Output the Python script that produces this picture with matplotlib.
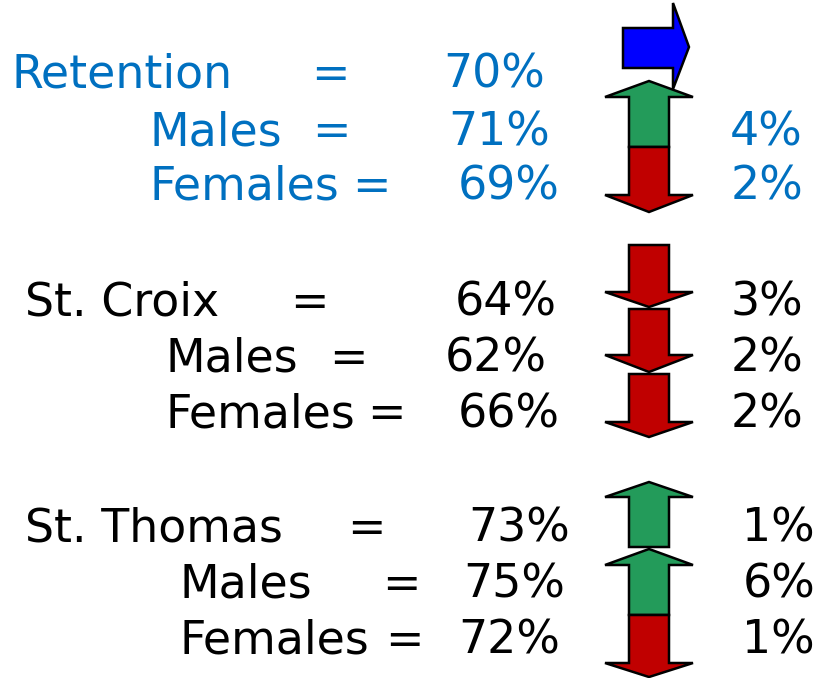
import matplotlib.pyplot as plt
from matplotlib.patches import Polygon

# rows of the summary: label, value, change, arrow direction
labels = ['Retention', 'Males', 'Females',
          'St. Croix', 'Males', 'Females',
          'St. Thomas', 'Males', 'Females']
values = ['70%', '71%', '69%', '64%', '62%', '66%', '73%', '75%', '72%']
changes = ['', '4%', '2%', '3%', '2%', '2%', '1%', '6%', '1%']
arrows = ['right', 'up', 'down', 'down', 'down', 'down', 'up', 'up', 'down']

# layout (pixel coordinates)
baseline = [88, 145, 200, 316, 372, 427, 542, 598, 654]
label_x = [12, 150, 150, 25, 165, 165, 25, 180, 180]
eq_x = [330, 331, 371, 309, 348, 386, 366, 401, 404]      # centres
val_r = [545, 550, 560, 557, 547, 560, 570, 565, 560]     # right edges
chg_r = [None, 803, 803, 803, 803, 803, 815, 815, 815]    # right edges
text_col = ['#0070C0'] * 3 + ['black'] * 6

# arrow extents: (tip, head base, shaft end)
arrow_y = [None, (81, 97, 147), (212, 195, 147),
           (307, 292, 245), (372, 355, 309), (437, 422, 374),
           (482, 497, 547), (549, 565, 615), (677, 663, 615)]

GREEN = '#239B5A'
RED = '#C00000'
BLUE = '#0000FF'

fig = plt.figure(figsize=(8.27, 6.78), dpi=100)
ax = fig.add_axes([0, 0, 1, 1])
ax.set_xlim(0, 827)
ax.set_ylim(678, 0)
ax.axis('off')

fs = 33
for i in range(len(labels)):
    c = text_col[i]
    ax.text(label_x[i], baseline[i], labels[i], fontsize=fs, color=c, va='baseline', ha='left')
    ax.text(eq_x[i], baseline[i], '=', fontsize=fs, color=c, va='baseline', ha='center')
    ax.text(val_r[i], baseline[i], values[i], fontsize=fs, color=c, va='baseline', ha='right')
    if changes[i]:
        ax.text(chg_r[i], baseline[i], changes[i], fontsize=fs, color=c, va='baseline', ha='right')

cx, shaft_w, head_w = 649, 20, 44
for i, d in enumerate(arrows):
    if d == 'right':
        pts = [(623, 28), (673, 28), (673, 3), (689, 47), (673, 89), (673, 68), (623, 68)]
        ax.add_patch(Polygon(pts, closed=True, fc=BLUE, ec='black', lw=1.8, zorder=3))
        continue
    tip, hb, end = arrow_y[i]
    pts = [(cx, tip), (cx + head_w, hb), (cx + shaft_w, hb), (cx + shaft_w, end),
           (cx - shaft_w, end), (cx - shaft_w, hb), (cx - head_w, hb)]
    col = GREEN if d == 'up' else RED
    ax.add_patch(Polygon(pts, closed=True, fc=col, ec='black', lw=1.8, zorder=3))

fig.savefig('out.png', dpi=100)
